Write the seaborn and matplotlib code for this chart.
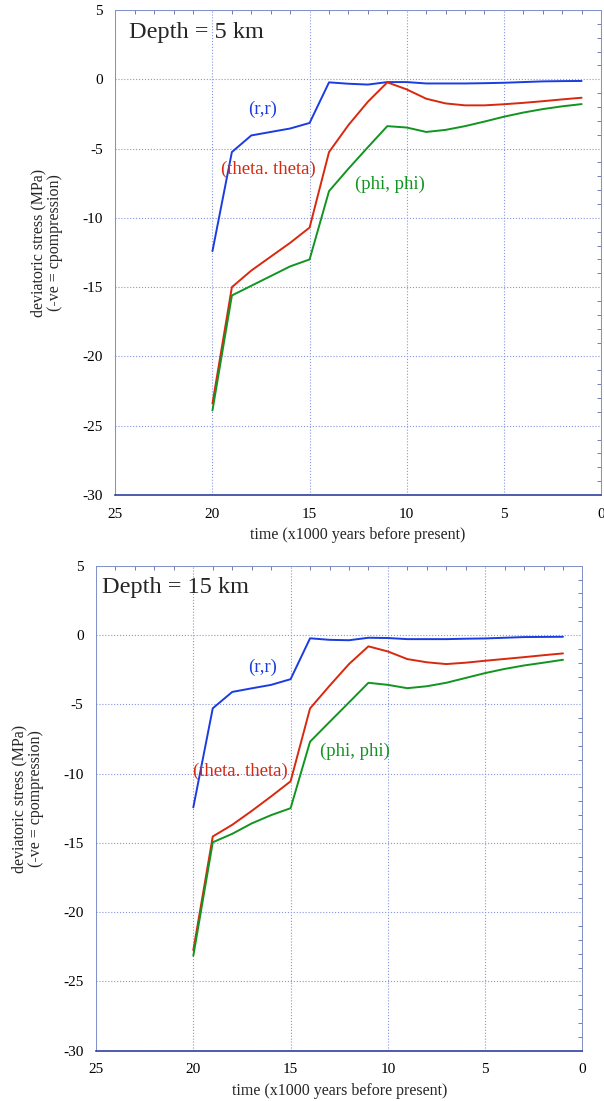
import pandas as pd
import matplotlib.pyplot as plt
import seaborn as sns
from matplotlib.ticker import MultipleLocator

# time in x1000 years before present
time = [20, 19, 18, 17, 16, 15, 14, 13, 12, 11, 10, 9, 8, 7, 6, 5, 4, 3, 2, 1]

# Depth = 5 km
rr_5 = [-12.4, -5.25, -4.05, -3.8, -3.55, -3.15, -0.22, -0.32, -0.38, -0.2,
        -0.2, -0.3, -0.3, -0.3, -0.28, -0.25, -0.2, -0.15, -0.13, -0.12]
tt_5 = [-23.4, -15.0, -13.8, -12.8, -11.8, -10.7, -5.25, -3.3, -1.62, -0.22,
        -0.73, -1.4, -1.74, -1.88, -1.88, -1.8, -1.7, -1.58, -1.45, -1.33]
pp_5 = [-23.9, -15.6, -14.9, -14.2, -13.5, -13.0, -8.07, -6.45, -4.9, -3.38,
        -3.48, -3.8, -3.65, -3.38, -3.05, -2.7, -2.4, -2.15, -1.95, -1.79]

# Depth = 15 km
rr_15 = [-12.44, -5.29, -4.11, -3.85, -3.6, -3.19, -0.24, -0.35, -0.38, -0.2,
         -0.22, -0.3, -0.3, -0.3, -0.27, -0.25, -0.2, -0.15, -0.14, -0.13]
tt_15 = [-22.75, -14.54, -13.7, -12.7, -11.65, -10.56, -5.3, -3.67, -2.1, -0.82,
         -1.19, -1.74, -1.97, -2.1, -2.0, -1.86, -1.73, -1.6, -1.46, -1.33]
pp_15 = [-23.15, -14.96, -14.35, -13.6, -13.0, -12.5, -7.7, -6.28, -4.87, -3.45,
         -3.6, -3.84, -3.7, -3.45, -3.1, -2.75, -2.45, -2.2, -2.0, -1.79]

names = ['(r,r)', '(theta. theta)', '(phi, phi)']
colors = ['#1a3ce0', '#d8280e', '#129420']

panels = [
    dict(title='Depth = 5 km', series=[rr_5, tt_5, pp_5],
         rect=[0.1909, 0.5504, 0.8042, 0.4405],
         labels=[(17.4, -2.15), (17.1, -6.5), (10.86, -7.6)], title_x=24.3),
    dict(title='Depth = 15 km', series=[rr_15, tt_15, pp_15],
         rect=[0.159, 0.0457, 0.8053, 0.4405],
         labels=[(16.43, -2.35), (17.6, -9.83), (11.7, -8.38)], title_x=24.67),
]

sns.set_style('white')
plt.rcParams['font.family'] = ['Liberation Serif', 'DejaVu Serif']
plt.rcParams['axes.unicode_minus'] = False

fig = plt.figure(figsize=(6.04, 11.01), dpi=100)

for p in panels:
    ax = fig.add_axes(p['rect'])
    for vals, name, c in zip(p['series'], names, colors):
        df = pd.DataFrame({'time': time, 'stress': vals})
        sns.lineplot(data=df, x='time', y='stress', color=c, linewidth=1.4, ax=ax)
    for (lx, ly), name, c in zip(p['labels'], names, colors):
        ax.text(lx, ly, name, color=c, fontsize=13.5, ha='center', va='center')
    ax.text(p['title_x'], 3.4, p['title'], fontsize=17.5, ha='left', va='center')

    ax.set_xlim(25, 0)
    ax.set_ylim(-30, 5)
    ax.xaxis.set_major_locator(MultipleLocator(5))
    ax.yaxis.set_major_locator(MultipleLocator(5))
    ax.xaxis.set_minor_locator(MultipleLocator(1))
    ax.yaxis.set_minor_locator(MultipleLocator(1))
    ax.grid(True, which='major', color='#8595e0', linestyle=':', linewidth=0.8)
    ax.tick_params(which='both', direction='in', top=True, right=True,
                   colors='#5a68a8', labelcolor='black', labelsize=11, pad=9)
    ax.tick_params(which='major', length=0)
    ax.tick_params(which='minor', length=3, width=0.6)
    for side in ['left', 'right', 'top']:
        ax.spines[side].set_color('#8090c8')
        ax.spines[side].set_linewidth(0.7)
    ax.spines['bottom'].set_color('#3040a0')
    ax.spines['bottom'].set_linewidth(1.2)

    ax.set_xlabel('time (x1000 years before present)', fontsize=11.5, labelpad=5)
    ax.set_ylabel('deviatoric stress (MPa)\n(-ve = cpompression)', fontsize=11.5,
                  linespacing=1.05)
    ax.yaxis.set_label_coords(-0.108, 0.52)

fig.savefig('out.png', dpi=100)
